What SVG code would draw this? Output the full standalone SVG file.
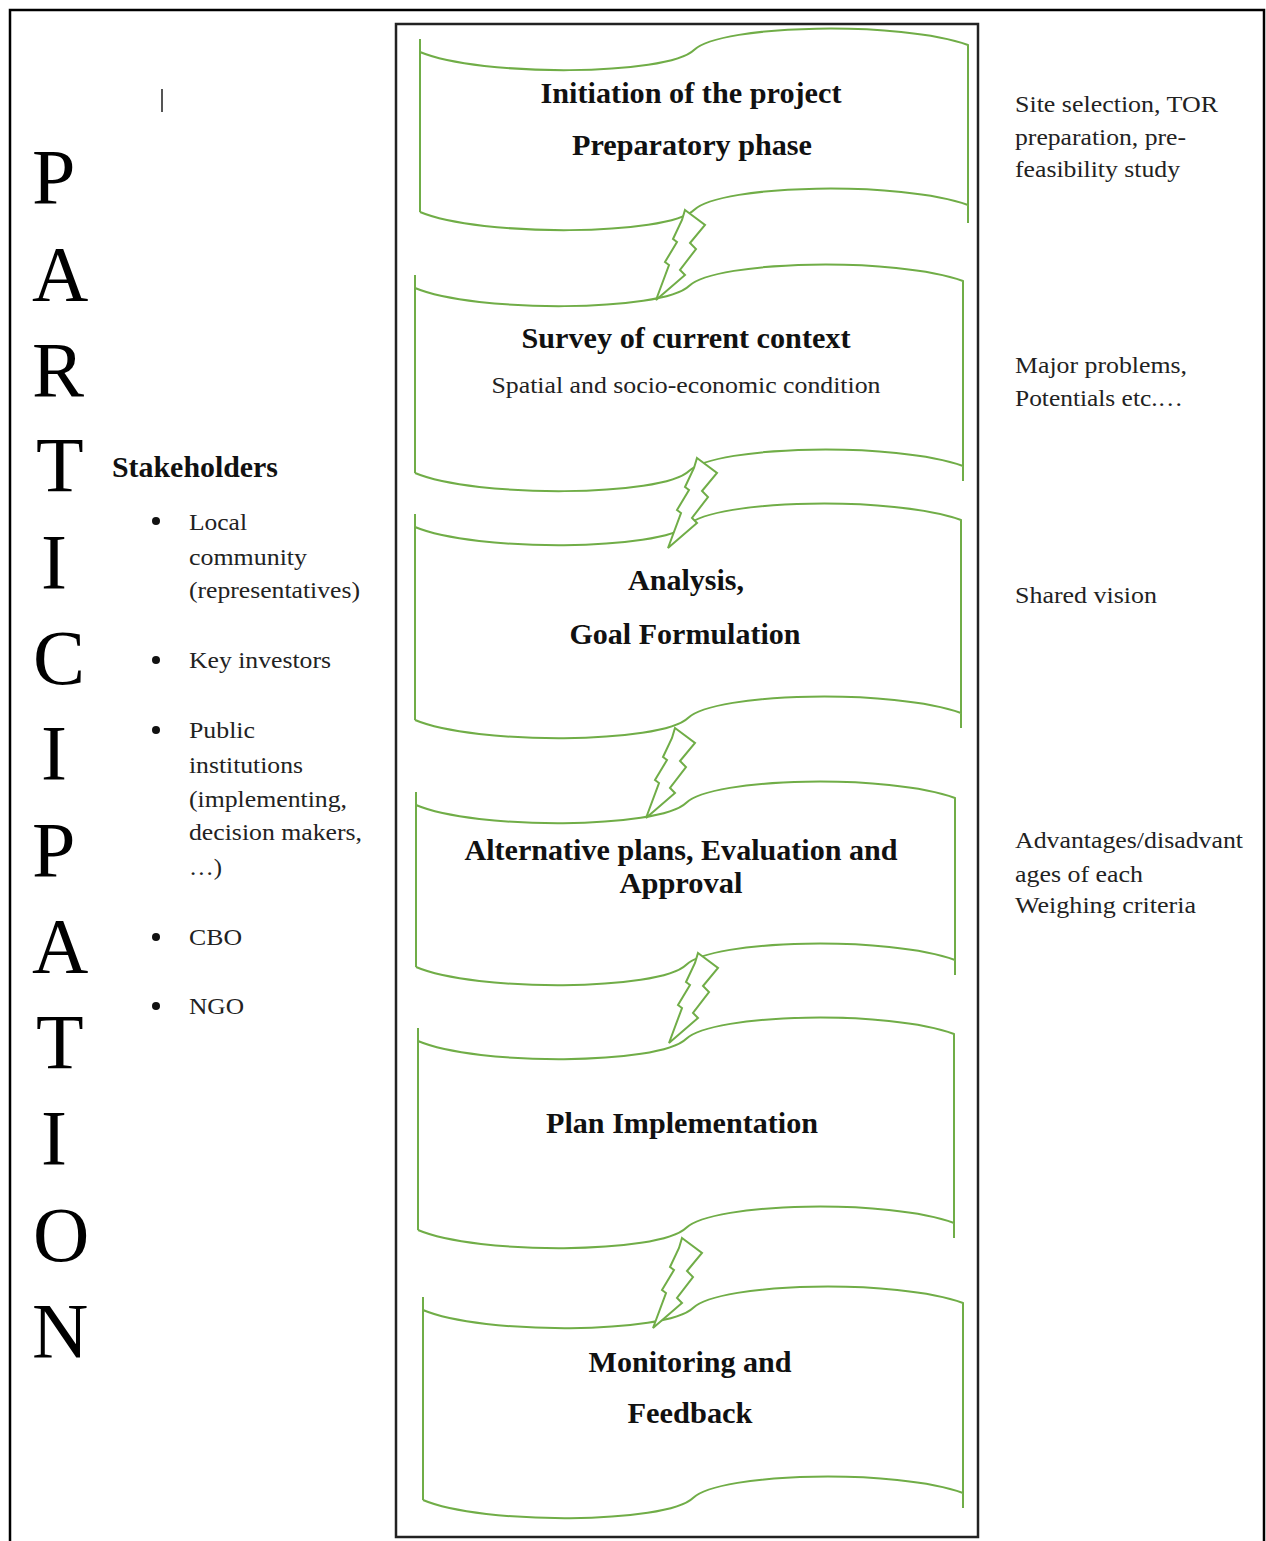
<svg xmlns="http://www.w3.org/2000/svg" width="1266" height="1541" viewBox="0 0 1266 1541">
  <style>
    .frame { fill: none; stroke: #000; stroke-width: 2.5; }
    .inner { fill: none; stroke: #222; stroke-width: 2.5; }
    .wave { fill: none; stroke: #70AD47; stroke-width: 2; stroke-linejoin: round; }
    .bolt { fill: #fff; stroke: #70AD47; stroke-width: 2; stroke-linejoin: miter; }
    .big { font-family: "Liberation Serif", "Times New Roman", serif; font-size: 78px; fill: #000; }
    .step { font-family: "Liberation Serif", "Times New Roman", serif; font-size: 30px; font-weight: bold; fill: #111; text-anchor: middle; }
    .sub { font-family: "Liberation Serif", "Times New Roman", serif; font-size: 24px; fill: #222; text-anchor: middle; }
    .note { font-family: "Liberation Serif", "Times New Roman", serif; font-size: 23px; fill: #222; }
    .head { font-family: "Liberation Serif", "Times New Roman", serif; font-size: 29px; font-weight: bold; fill: #111; }
    .dot { fill: #111; }
  </style>
  <defs>
    <path id="bolt" d="M0,0 L20,15 L5,33 L11,39 L-5,60 L0,65 L-29,90 L-16,55 L-20,52 L-8,32 L-12,29 L-3,10 Z"/>
  </defs>

  <rect width="1266" height="1541" fill="#fff"/>

  <!-- page frame (open at the bottom) and process column -->
  <path class="frame" d="M10,1541 V10 H1264 V1541"/>
  <rect class="inner" x="396" y="24" width="582" height="1513"/>

  <!-- cursor mark -->
  <line x1="162" y1="89" x2="162" y2="112" stroke="#555" stroke-width="2"/>

  <!-- vertical title -->
  <g id="title">
    <text class="big" x="32" y="203">P</text>
    <text class="big" x="32" y="300">A</text>
    <text class="big" x="32" y="396">R</text>
    <text class="big" x="36" y="491">T</text>
    <text class="big" x="41" y="588">I</text>
    <text class="big" x="33" y="684">C</text>
    <text class="big" x="41" y="779">I</text>
    <text class="big" x="32" y="876">P</text>
    <text class="big" x="32" y="972">A</text>
    <text class="big" x="36" y="1068">T</text>
    <text class="big" x="41" y="1164">I</text>
    <text class="big" x="33" y="1261">O</text>
    <text class="big" x="32" y="1357">N</text>
  </g>

  <!-- stakeholder list -->
  <g id="stakeholders">
    <text class="head" x="112" y="477" textLength="166" lengthAdjust="spacingAndGlyphs">Stakeholders</text>
    <circle class="dot" cx="156" cy="521" r="4"/>
    <text class="note" x="189" y="530" textLength="58" lengthAdjust="spacingAndGlyphs">Local</text>
    <text class="note" x="189" y="565" textLength="118" lengthAdjust="spacingAndGlyphs">community</text>
    <text class="note" x="189" y="598" textLength="171" lengthAdjust="spacingAndGlyphs">(representatives)</text>
    <circle class="dot" cx="156" cy="660" r="4"/>
    <text class="note" x="189" y="668" textLength="142" lengthAdjust="spacingAndGlyphs">Key investors</text>
    <circle class="dot" cx="156" cy="730" r="4"/>
    <text class="note" x="189" y="738" textLength="66" lengthAdjust="spacingAndGlyphs">Public</text>
    <text class="note" x="189" y="773" textLength="114" lengthAdjust="spacingAndGlyphs">institutions</text>
    <text class="note" x="189" y="807" textLength="158" lengthAdjust="spacingAndGlyphs">(implementing,</text>
    <text class="note" x="189" y="840" textLength="173" lengthAdjust="spacingAndGlyphs">decision makers,</text>
    <text class="note" x="189" y="875" textLength="33" lengthAdjust="spacingAndGlyphs">…)</text>
    <circle class="dot" cx="156" cy="937" r="4"/>
    <text class="note" x="189" y="945" textLength="53" lengthAdjust="spacingAndGlyphs">CBO</text>
    <circle class="dot" cx="156" cy="1006" r="4"/>
    <text class="note" x="189" y="1014" textLength="55" lengthAdjust="spacingAndGlyphs">NGO</text>
  </g>

  <!-- process steps -->
  <g id="step-initiation">
    <path class="wave" d="M420,39 V212 M420,52 C480,77 667,76 694,50 C721,24 902,21 968,45 V223 M420,212 C480,237 667,236 694,210 C721,184 902,181 968,205"/>
    <text class="step" x="691" y="103" textLength="301" lengthAdjust="spacingAndGlyphs">Initiation of the project</text>
    <text class="step" x="692" y="155" textLength="240" lengthAdjust="spacingAndGlyphs">Preparatory phase</text>
  </g>

  <g id="step-survey">
    <path class="wave" d="M415,275 V473 M415,288 C475,313 662,312 689,286 C716,260 897,257 963,281 V481 M415,473 C475,498 662,497 689,471 C716,445 897,442 963,466"/>
    <text class="step" x="686" y="348" textLength="329" lengthAdjust="spacingAndGlyphs">Survey of current context</text>
    <text class="sub" x="686" y="393" textLength="389" lengthAdjust="spacingAndGlyphs">Spatial and socio-economic condition</text>
  </g>

  <g id="step-analysis">
    <path class="wave" d="M415,514 V720 M415,527 C475,552 661,551 688,525 C715,499 895,496 961,520 V728 M415,720 C475,745 661,744 688,718 C715,692 895,689 961,713"/>
    <text class="step" x="686" y="590" textLength="116" lengthAdjust="spacingAndGlyphs">Analysis,</text>
    <text class="step" x="685" y="644" textLength="231" lengthAdjust="spacingAndGlyphs">Goal Formulation</text>
  </g>

  <g id="step-alternatives">
    <path class="wave" d="M416,792 V967 M416,805 C475,830 659,829 686,803 C712,777 890,774 955,798 V975 M416,967 C475,992 659,991 686,965 C712,939 890,936 955,960"/>
    <text class="step" x="681" y="860" textLength="433" lengthAdjust="spacingAndGlyphs">Alternative plans, Evaluation and</text>
    <text class="step" x="681" y="893" textLength="123" lengthAdjust="spacingAndGlyphs">Approval</text>
  </g>

  <g id="step-implementation">
    <path class="wave" d="M418,1028 V1230 M418,1041 C477,1066 659,1065 686,1039 C713,1013 890,1010 954,1034 V1238 M418,1230 C477,1255 659,1254 686,1228 C713,1202 890,1199 954,1223"/>
    <text class="step" x="682" y="1133" textLength="272" lengthAdjust="spacingAndGlyphs">Plan Implementation</text>
  </g>

  <g id="step-monitoring">
    <path class="wave" d="M423,1297 V1500 M423,1310 C482,1335 666,1334 693,1308 C720,1282 898,1279 963,1303 V1508 M423,1500 C482,1525 666,1524 693,1498 C720,1472 898,1469 963,1493"/>
    <text class="step" x="690" y="1372" textLength="203" lengthAdjust="spacingAndGlyphs">Monitoring and</text>
    <text class="step" x="690" y="1423" textLength="125" lengthAdjust="spacingAndGlyphs">Feedback</text>
  </g>

  <!-- lightning links between consecutive steps -->
  <g id="connectors">
    <use href="#bolt" class="bolt" transform="translate(685,210)"/>
    <use href="#bolt" class="bolt" transform="translate(697,458)"/>
    <use href="#bolt" class="bolt" transform="translate(675,728)"/>
    <use href="#bolt" class="bolt" transform="translate(698,953)"/>
    <use href="#bolt" class="bolt" transform="translate(682,1238)"/>
  </g>

  <!-- outcome notes -->
  <g id="notes">
    <text class="note" x="1015" y="112" textLength="203" lengthAdjust="spacingAndGlyphs">Site selection, TOR</text>
    <text class="note" x="1015" y="145" textLength="171" lengthAdjust="spacingAndGlyphs">preparation, pre-</text>
    <text class="note" x="1015" y="177" textLength="165" lengthAdjust="spacingAndGlyphs">feasibility study</text>
    <text class="note" x="1015" y="373" textLength="172" lengthAdjust="spacingAndGlyphs">Major problems,</text>
    <text class="note" x="1015" y="406" textLength="168" lengthAdjust="spacingAndGlyphs">Potentials etc.…</text>
    <text class="note" x="1015" y="603" textLength="142" lengthAdjust="spacingAndGlyphs">Shared vision</text>
    <text class="note" x="1015" y="848" textLength="228" lengthAdjust="spacingAndGlyphs">Advantages/disadvant</text>
    <text class="note" x="1015" y="882" textLength="128" lengthAdjust="spacingAndGlyphs">ages of each</text>
    <text class="note" x="1015" y="913" textLength="181" lengthAdjust="spacingAndGlyphs">Weighing criteria</text>
  </g>
</svg>
